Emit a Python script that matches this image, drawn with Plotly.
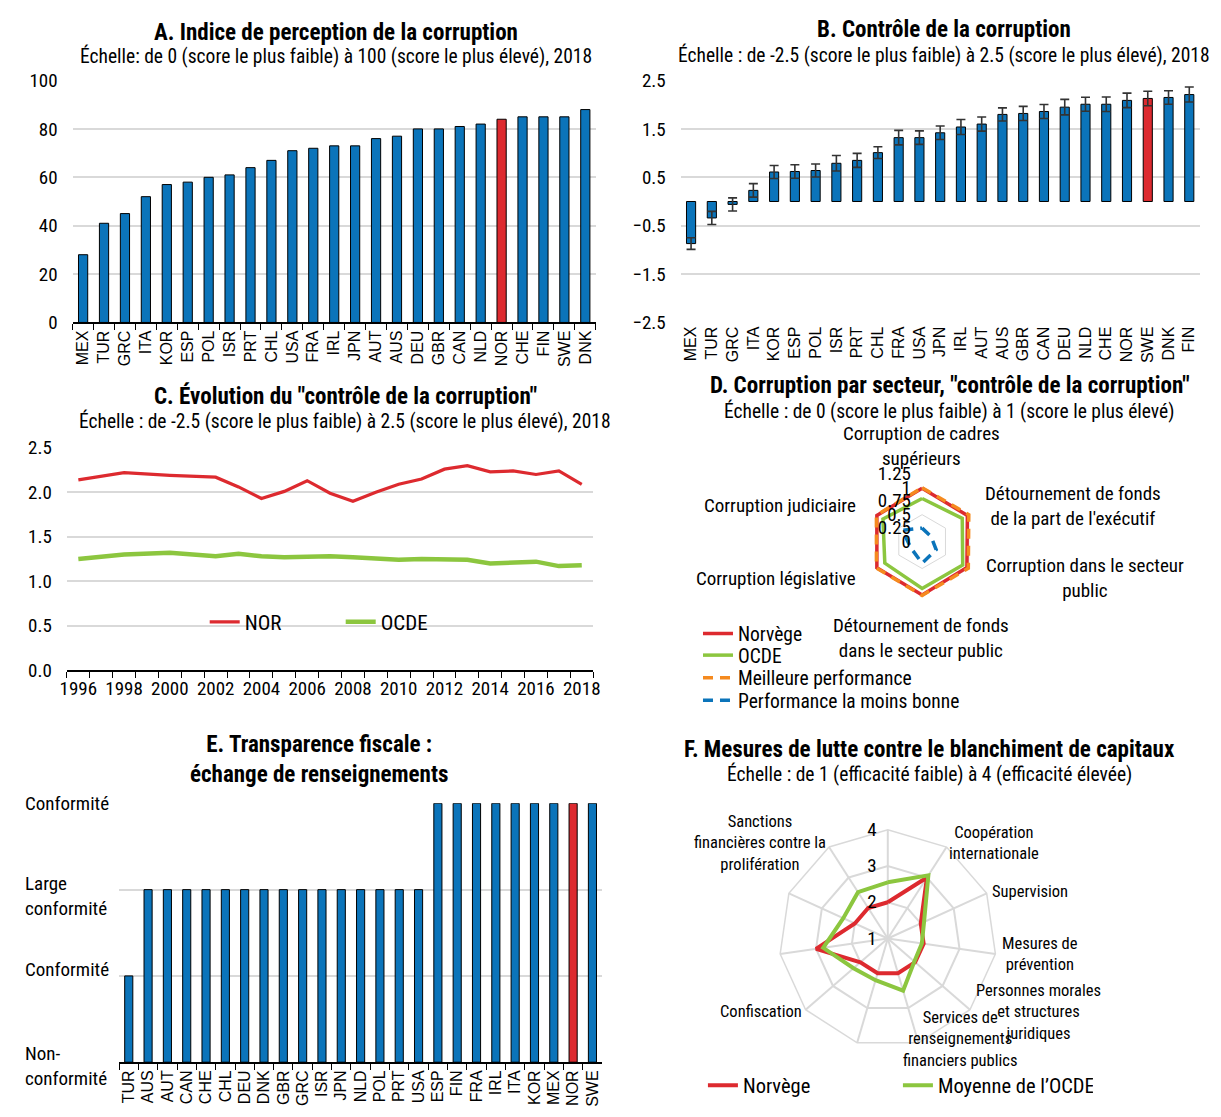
import plotly.graph_objects as go

W, H = 1221, 1117

NARROW = "Liberation Sans Narrow, Arial Narrow, Roboto Condensed, sans-serif"
SANS = "Liberation Sans, Arial, sans-serif"
BLUE = "#0B74BA"
RED = "#DD2A2F"
GREEN = "#8CC63F"
ORANGE = "#F58A1F"
GRID = "#D9D9D9"

# ---- A. Corruption perceptions index, 2018
cpi_countries = ["MEX", "TUR", "GRC", "ITA", "KOR", "ESP", "POL", "ISR", "PRT", "CHL",
                 "USA", "FRA", "IRL", "JPN", "AUT", "AUS", "DEU", "GBR", "CAN", "NLD",
                 "NOR", "CHE", "FIN", "SWE", "DNK"]
cpi_scores = [28, 41, 45, 52, 57, 58, 60, 61, 64, 67, 71, 72, 73, 73, 76, 77, 80, 80, 81, 82,
              84, 85, 85, 85, 88]
cpi_highlight = "NOR"

# ---- B. Control of corruption, 2018 (with margin of error)
cc_countries = ["MEX", "TUR", "GRC", "ITA", "KOR", "ESP", "POL", "ISR", "PRT", "CHL",
                "FRA", "USA", "JPN", "IRL", "AUT", "AUS", "GBR", "CAN", "DEU", "NLD",
                "CHE", "NOR", "SWE", "DNK", "FIN"]
cc_scores = [-0.87, -0.34, -0.06, 0.23, 0.61, 0.62, 0.64, 0.79, 0.85, 1.01,
             1.32, 1.32, 1.42, 1.54, 1.60, 1.80, 1.82, 1.86, 1.95, 2.01,
             2.01, 2.09, 2.13, 2.15, 2.21]
cc_errors = [0.12, 0.135, 0.135, 0.14, 0.135, 0.14, 0.135, 0.16, 0.145, 0.12,
             0.15, 0.14, 0.14, 0.155, 0.145, 0.135, 0.145, 0.145, 0.16, 0.145,
             0.15, 0.15, 0.15, 0.14, 0.155]
cc_highlight = "SWE"

# ---- C. Control of corruption over time
years = list(range(1996, 2019))
nor_trend = [2.14, None, 2.22, None, 2.19, None, 2.17, 2.06, 1.93, 2.01, 2.13, 1.99,
             1.90, 2.00, 2.09, 2.15, 2.26, 2.30, 2.23, 2.24, 2.20, 2.24, 2.09]
oecd_trend = [1.25, None, 1.30, None, 1.32, None, 1.28, 1.31, 1.28, 1.27, 1.28, 1.28,
              1.27, 1.25, 1.24, 1.25, 1.25, 1.24, 1.20, 1.21, 1.22, 1.17, 1.18]
year_labels = [1996, 1998, 2000, 2002, 2004, 2006, 2008, 2010, 2012, 2014, 2016, 2018]

# ---- D. Corruption by sector
sectors = ["Corruption de cadres supérieurs",
           "Détournement de fonds de la part de l'exécutif",
           "Corruption dans le secteur public",
           "Détournement de fonds dans le secteur public",
           "Corruption législative",
           "Corruption judiciaire"]
sector_nor = [0.99, 0.97, 0.96, 0.99, 0.97, 0.97]
sector_oecd = [0.80, 0.86, 0.87, 0.87, 0.80, 0.84]
sector_best = [1.00, 1.00, 0.99, 1.00, 0.98, 0.98]
sector_worst = [0.25, 0.19, 0.30, 0.40, 0.24, 0.42]
sector_ticks = [0, 0.25, 0.5, 0.75, 1, 1.25]
sector_ticktext = ["0", "0.25", "0.5", "0.75", "1", "1.25"]
sector_grid = [0.5, 1.0]

# ---- E. Tax transparency: exchange of information on request
tt_countries = ["TUR", "AUS", "AUT", "CAN", "CHE", "CHL", "DEU", "DNK", "GBR", "GRC",
                "ISR", "JPN", "NLD", "POL", "PRT", "USA", "ESP", "FIN", "FRA", "IRL",
                "ITA", "KOR", "MEX", "NOR", "SWE"]
tt_rating = [1, 2, 2, 2, 2, 2, 2, 2, 2, 2, 2, 2, 2, 2, 2, 2, 3, 3, 3, 3, 3, 3, 3, 3, 3]
tt_levels = [0, 1, 2, 3]
tt_level_text = ["Non-<br>conformité", "Conformité", "Large<br>conformité", "Conformité"]
tt_highlight = "NOR"

# ---- F. Anti-money-laundering effectiveness (immediate outcomes)
outcomes = ["Risques, politique et coordination",
            "Coopération internationale",
            "Supervision",
            "Mesures de prévention",
            "Personnes morales et structures juridiques",
            "Services de renseignements financiers publics",
            "Enquêtes et poursuites - blanchiment",
            "Confiscation",
            "Enquêtes et poursuites - financement du terrorisme",
            "Mesures préventives - financement du terrorisme",
            "Sanctions financières contre la prolifération"]
aml_nor = [2, 3, 2, 2, 2, 2, 2, 2, 3, 2, 2]
aml_oecd = [2.55, 3.07, 2.10, 1.95, 1.97, 2.50, 2.20, 2.25, 2.80, 2.35, 2.52]


def px(x):
    return x / W


def py(y):
    return 1 - y / H


def closed(values):
    return list(values) + [values[0]]


fig = go.Figure()

# A
fig.add_trace(go.Bar(
    x=cpi_countries, y=cpi_scores, width=0.44,
    marker=dict(color=[RED if c == cpi_highlight else BLUE for c in cpi_countries],
                line=dict(color="black", width=1)),
    showlegend=False, xaxis="x", yaxis="y"))

# B
fig.add_trace(go.Bar(
    x=cc_countries, y=cc_scores, width=0.44,
    marker=dict(color=[RED if c == cc_highlight else BLUE for c in cc_countries],
                line=dict(color="black", width=1)),
    error_y=dict(type="data", array=cc_errors, color="#333333", thickness=1.6, width=4.5),
    showlegend=False, xaxis="x2", yaxis="y2"))

# C
fig.add_trace(go.Scatter(x=years, y=nor_trend, mode="lines", name="NOR", connectgaps=True,
                         line=dict(color=RED, width=3.2), xaxis="x3", yaxis="y3",
                         legend="legend"))
fig.add_trace(go.Scatter(x=years, y=oecd_trend, mode="lines", name="OCDE", connectgaps=True,
                         line=dict(color=GREEN, width=4.5), xaxis="x3", yaxis="y3",
                         legend="legend"))

# D
for lvl in sector_grid:
    fig.add_trace(go.Scatterpolar(r=closed([lvl] * len(sectors)), theta=closed(sectors),
                                  mode="lines", line=dict(color=GRID, width=1),
                                  showlegend=False, hoverinfo="skip", subplot="polar"))
sector_series = [
    ("Norvège", sector_nor, dict(color=RED, width=3.5), "legend2"),
    ("OCDE", sector_oecd, dict(color=GREEN, width=3.5), "legend3"),
    ("Meilleure performance", sector_best, dict(color=ORANGE, width=3.5, dash="10px,7px"), "legend4"),
    ("Performance la moins bonne", sector_worst, dict(color=BLUE, width=3.5, dash="10px,7px"), "legend5"),
]
for name, vals, line, leg in sector_series:
    fig.add_trace(go.Scatterpolar(r=closed(vals), theta=closed(sectors), mode="lines",
                                  name=name, line=line, subplot="polar", legend=leg))

# E
fig.add_trace(go.Bar(
    x=tt_countries, y=tt_rating, width=0.42,
    marker=dict(color=[RED if c == tt_highlight else BLUE for c in tt_countries],
                line=dict(color="black", width=1)),
    showlegend=False, xaxis="x4", yaxis="y4"))

# F
fig.add_trace(go.Scatterpolar(r=closed(aml_nor), theta=closed(outcomes), mode="lines",
                              name="Norvège", line=dict(color=RED, width=4),
                              subplot="polar2", legend="legend6"))
fig.add_trace(go.Scatterpolar(r=closed(aml_oecd), theta=closed(outcomes), mode="lines",
                              name="Moyenne de l’OCDE", line=dict(color=GREEN, width=4),
                              subplot="polar2", legend="legend6"))

tick_font = dict(family=NARROW, size=19, color="black")
cat_font = dict(family=SANS, size=16, color="black")


def cat_axis(domain, anchor, with_line=True):
    return dict(domain=domain, anchor=anchor, type="category", tickangle=-90,
                tickfont=cat_font, showgrid=False, showline=with_line, linecolor="black",
                linewidth=1.5, ticks="outside" if with_line else "", tickson="boundaries",
                ticklen=6, tickcolor="black", tickwidth=1.2, range=[-0.5, 24.5],
                zeroline=False, fixedrange=True)


def item_legend(x, y, size, orientation="v", entrywidth=None):
    d = dict(x=px(x), y=py(y), xanchor="left", yanchor="middle", orientation=orientation,
             font=dict(family=NARROW, size=size, color="black"),
             bgcolor="rgba(0,0,0,0)", itemwidth=30, tracegroupgap=0)
    if entrywidth:
        d.update(entrywidth=entrywidth, entrywidthmode="pixels")
    return d


layout = dict(
    width=W, height=H, margin=dict(l=0, r=0, t=0, b=0),
    paper_bgcolor="white", plot_bgcolor="white",
    font=dict(family=NARROW, size=18, color="black"),
    # A
    xaxis=cat_axis([px(66.4), px(595.6)], "y"),
    yaxis=dict(domain=[py(318), py(71)], anchor="x", range=[0, 100], dtick=20,
               showgrid=True, gridcolor=GRID, gridwidth=1.5, zeroline=False,
               tickfont=tick_font, ticks="", ticklabelstandoff=14, showline=False),
    # B
    xaxis2=cat_axis([px(681.5), px(1206.5)], "y2", with_line=False),
    yaxis2=dict(domain=[py(318), py(71)], anchor="x2", range=[-2.5, 2.5], tick0=-2.5,
                dtick=1, showgrid=True, gridcolor=GRID, gridwidth=1.5, zeroline=False,
                tickfont=tick_font, ticks="", ticklabelstandoff=14, showline=False),
    # zero line of B with boundary ticks
    xaxis5=dict(overlaying="x2", anchor="free",
                position=(py(318) + py(71)) / 2, type="linear", range=[-0.5, 24.5],
                tickvals=[i - 0.5 for i in range(len(cc_countries) + 1)],
                showticklabels=False, ticks="outside", ticklen=6, tickcolor="black",
                tickwidth=1.2, showline=True, linecolor="black", linewidth=1.5,
                showgrid=False, zeroline=False),
    # C
    xaxis3=dict(domain=[px(60.6), px(593)], anchor="y3", type="linear",
                range=[1995.5, 2018.5], tickvals=year_labels, ticks="",
                tickfont=tick_font, showgrid=False, showline=True, linecolor="black",
                linewidth=1.5, zeroline=False,
                minor=dict(tick0=1995.5, dtick=1, ticks="outside", ticklen=6,
                           tickcolor="black", tickwidth=1.2, showgrid=False)),
    yaxis3=dict(domain=[py(673), py(446)], anchor="x3", range=[0, 2.5], dtick=0.5,
                tickformat=".1f", showgrid=True, gridcolor=GRID, gridwidth=1.5,
                zeroline=False, tickfont=tick_font, ticks="", ticklabelstandoff=14),
    # E
    xaxis4=cat_axis([px(113.4), px(602)], "y4"),
    yaxis4=dict(domain=[py(1073.3), py(809)], anchor="x4", range=[0, 3], dtick=1,
                showgrid=True, gridcolor=GRID, gridwidth=1.5, zeroline=False,
                showticklabels=False, ticks=""),
    # D
    polar=dict(
        domain=dict(x=[px(857), px(994.5)], y=[py(610.5), py(473)]),
        bgcolor="white", gridshape="linear",
        radialaxis=dict(range=[0, 1.25], angle=90, tickangle=90, tickvals=sector_ticks,
                        ticktext=sector_ticktext, showgrid=False, showline=False,
                        ticks="outside", ticklen=4, tickcolor="rgba(0,0,0,0)",
                        side="counterclockwise", tickfont=tick_font),
        angularaxis=dict(rotation=90, direction="clockwise", showticklabels=False,
                         ticks="", showgrid=False, showline=False)),
    # F
    polar2=dict(
        domain=dict(x=[px(780), px(1002)], y=[py(1058), py(836)]),
        bgcolor="white", gridshape="linear",
        radialaxis=dict(range=[1, 4], angle=90, tickangle=90, tickvals=[1, 2, 3, 4],
                        showgrid=True, gridcolor=GRID, gridwidth=1.5, showline=False,
                        ticks="outside", ticklen=4, tickcolor="rgba(0,0,0,0)",
                        side="counterclockwise", tickfont=tick_font),
        angularaxis=dict(rotation=90, direction="clockwise", showticklabels=False,
                         ticks="", showgrid=True, gridcolor=GRID, gridwidth=1.5,
                         showline=True, linecolor=GRID, linewidth=1.5)),
    legend=item_legend(200, 624, 21, "h", entrywidth=91),
    legend2=item_legend(699, 636, 19.5),
    legend3=item_legend(699, 658, 19.5),
    legend4=item_legend(699, 681, 19.5),
    legend5=item_legend(699, 704, 19.5),
    legend6=item_legend(704, 1097, 20.5, "h", entrywidth=150),
    showlegend=True,
)
fig.update_layout(**layout)

ann = []


def text(x, y, s, size=18, bold=False, xanchor="center", align="center", family=NARROW):
    ann.append(dict(x=px(x), y=py(y), xref="paper", yref="paper",
                    text=f"<b>{s}</b>" if bold else s,
                    showarrow=False, xanchor=xanchor, yanchor="middle", align=align,
                    font=dict(family=family, size=size, color="black")))


# panel titles
text(333, 22, "A. Indice de perception de la corruption", 23, True)
text(333, 46, "Échelle: de 0 (score le plus faible) à 100 (score le plus élevé), 2018", 19.5)
text(948, 19, "B. Contrôle de la corruption", 23, True)
text(948, 45, "Échelle : de -2.5 (score le plus faible) à 2.5 (score le plus élevé), 2018", 19.5)
text(342, 393, "C. Évolution du \"contrôle de la corruption\"", 23, True)
text(342, 419, "Échelle : de -2.5 (score le plus faible) à 2.5 (score le plus élevé), 2018", 19.5)
text(954, 382, "D. Corruption par secteur, \"contrôle de la corruption\"", 23, True)
text(953, 408, "Échelle : de 0 (score le plus faible) à 1 (score le plus élevé)", 19.5)
text(316, 764, "E. Transparence fiscale :<br>échange de renseignements", 23, True)
text(933, 754, "F. Mesures de lutte contre le blanchiment de capitaux", 23, True)
text(933, 779, "Échelle : de 1 (efficacité faible) à 4 (efficacité élevée)", 19.5)

# D axis labels
text(925, 444, "Corruption de cadres<br>supérieurs", 19)
text(1078, 505, "Détournement de fonds<br>de la part de l'exécutif", 19)
text(1090, 579, "Corruption dans le secteur<br>public", 19)
text(925, 640, "Détournement de fonds<br>dans le secteur public", 19)
text(861, 579, "Corruption législative", 19, xanchor="right")
text(861, 505, "Corruption judiciaire", 19, xanchor="right")

# F axis labels
text(762, 850, "Sanctions<br>financières contre la<br>prolifération", 16.5)
text(998, 850, "Coopération<br>internationale", 16.5)
text(1035, 899, "Supervision", 16.5)
text(1045, 963, "Mesures de<br>prévention", 16.5)
text(1043, 1022, "Personnes morales<br>et structures<br>juridiques", 16.5)
text(964, 1050, "Services de<br>renseignements<br>financiers publics", 16.5)
text(763, 1022, "Confiscation", 16.5)

# E rating labels along the value axis
level_shift = [-4, 6, -6, 0]
for lvl, lab, dy in zip(tt_levels, tt_level_text, level_shift):
    ann.append(dict(x=px(16), y=lvl, xref="paper", yref="y4", text=lab, showarrow=False,
                    xanchor="left", yanchor="middle", align="left", yshift=dy,
                    font=dict(family=NARROW, size=19, color="black")))

fig.update_layout(annotations=ann)
fig.write_html("out.html")
